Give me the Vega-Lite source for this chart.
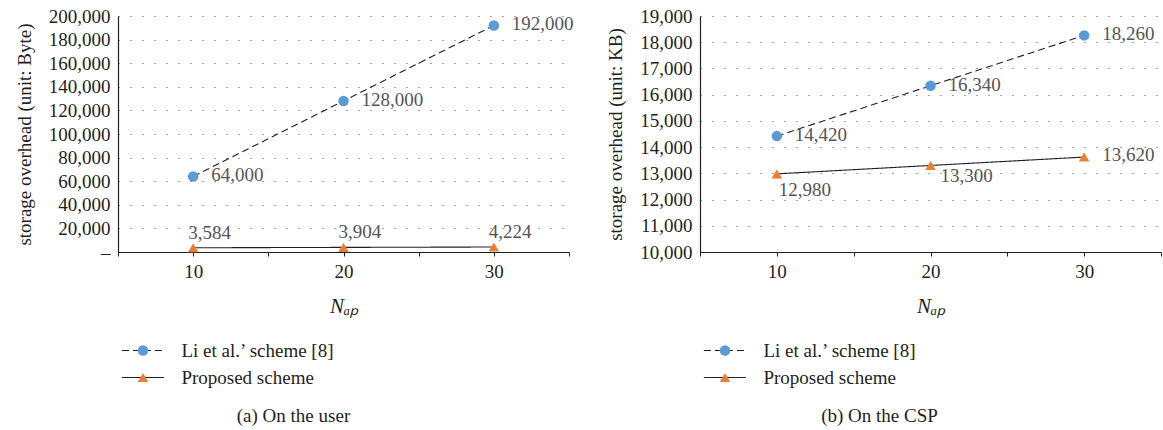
{
  "$schema": "https://vega.github.io/schema/vega-lite/v6.json",
  "padding": {"left": 15, "top": 7, "right": 0, "bottom": 0},
  "background": "white",
  "config": {
    "font": "Liberation Serif, Times New Roman, serif",
    "view": {"stroke": null},
    "axis": {
      "labelFont": "Liberation Serif, Times New Roman, serif", "labelFontSize": 19, "labelColor": "#231f20",
      "titleFont": "Liberation Serif, Times New Roman, serif", "titleFontSize": 19, "titleFontWeight": "normal", "titleColor": "#231f20",
      "domainColor": "#231f20", "domainWidth": 1.2, "tickColor": "#231f20", "tickWidth": 1
    },
    "legend": {"labelFont": "Liberation Serif, Times New Roman, serif", "labelFontSize": 19, "labelColor": "#231f20"},
    "title": {"font": "Liberation Serif, Times New Roman, serif", "fontSize": 19, "fontWeight": "normal", "color": "#231f20"},
    "text": {"font": "Liberation Serif, Times New Roman, serif"}
  },
  "datasets": {
    "user": [
      {"n": 10, "series": "Li et al.’ scheme [8]", "value": 64000},
      {"n": 20, "series": "Li et al.’ scheme [8]", "value": 128000},
      {"n": 30, "series": "Li et al.’ scheme [8]", "value": 192000},
      {"n": 10, "series": "Proposed scheme", "value": 3584},
      {"n": 20, "series": "Proposed scheme", "value": 3904},
      {"n": 30, "series": "Proposed scheme", "value": 4224}
    ],
    "csp": [
      {"n": 10, "series": "Li et al.’ scheme [8]", "value": 14420},
      {"n": 20, "series": "Li et al.’ scheme [8]", "value": 16340},
      {"n": 30, "series": "Li et al.’ scheme [8]", "value": 18260},
      {"n": 10, "series": "Proposed scheme", "value": 12980},
      {"n": 20, "series": "Proposed scheme", "value": 13300},
      {"n": 30, "series": "Proposed scheme", "value": 13620}
    ]
  },
  "resolve": {
    "scale": {"x": "independent", "y": "independent", "color": "independent", "shape": "independent", "strokeDash": "independent"},
    "legend": {"color": "independent", "shape": "independent", "strokeDash": "independent"}
  },
  "spacing": 32,
  "hconcat": [
    {
      "width": 451, "height": 236,
      "title": {"text": "(a)  On the user", "orient": "bottom", "anchor": "middle", "dx": -50, "offset": 19},
      "data": {"name": "user"},
      "encoding": {
        "x": {"field": "n", "type": "quantitative", "scale": {"domain": [5, 35], "nice": false, "zero": false},
          "axis": {"values": [5, 10, 15, 20, 25, 30, 35], "labelExpr": "(datum.value == 10 || datum.value == 20 || datum.value == 30) ? datum.label : ''",
            "grid": false, "tickSize": 4, "labelPadding": 6, "title": "Nₐₚ", "titleFontStyle": "italic", "titleFontSize": 21, "titlePadding": 14}},
        "y": {"field": "value", "type": "quantitative", "scale": {"domain": [0, 200000], "nice": false},
          "axis": {"values": [0, 20000, 40000, 60000, 80000, 100000, 120000, 140000, 160000, 180000, 200000],
            "labelExpr": "datum.value == 0 ? '–' : format(datum.value, ',')", "ticks": false, "labelPadding": 8,
            "grid": true, "gridDash": [1, 11], "gridColor": "#444", "gridWidth": 1,
            "title": "storage overhead (unit: Byte)", "titlePadding": 14}}
      },
      "layer": [
        {
          "mark": {"type": "line", "color": "#231f20", "strokeWidth": 1.1},
          "encoding": {"strokeDash": {"field": "series", "type": "nominal",
            "scale": {"domain": ["Li et al.’ scheme [8]", "Proposed scheme"], "range": [[7, 4], [1, 0]]},
            "legend": {"orient": "none", "legendX": 15.4, "legendY": 325, "title": null, "symbolType": "M-4.2,0H4.2", "symbolSize": 100,
              "symbolStrokeWidth": 1.1, "symbolStrokeColor": "#231f20", "rowPadding": 7, "labelOffset": 29}}}
        },
        {
          "mark": {"type": "point", "filled": true, "size": 110, "opacity": 1},
          "encoding": {
            "color": {"field": "series", "type": "nominal", "scale": {"range": ["#5b9bd5", "#ed7d31"]},
              "legend": {"orient": "none", "legendX": 15.5, "legendY": 325, "title": null, "symbolSize": 110, "symbolStrokeWidth": 0,
                "labelExpr": "''", "rowPadding": 7, "symbolOpacity": 1}},
            "shape": {"field": "series", "type": "nominal", "scale": {"range": ["circle", "triangle-up"]},
              "legend": {"orient": "none", "legendX": 15.5, "legendY": 325, "title": null, "symbolSize": 110, "symbolStrokeWidth": 0,
                "labelExpr": "''", "rowPadding": 7, "symbolOpacity": 1}}
          }
        },
        {
          "transform": [{"filter": "datum.series == 'Li et al.’ scheme [8]'"}],
          "mark": {"type": "text", "align": "left", "baseline": "middle", "dx": 18, "dy": -1, "fontSize": 19, "color": "#555"},
          "encoding": {"text": {"field": "value", "type": "quantitative", "format": ","}}
        },
        {
          "transform": [{"filter": "datum.series == 'Proposed scheme'"}],
          "mark": {"type": "text", "align": "left", "baseline": "middle", "dx": -5, "dy": -15, "fontSize": 19, "color": "#555"},
          "encoding": {"text": {"field": "value", "type": "quantitative", "format": ","}}
        }
      ]
    },
    {
      "width": 461, "height": 236,
      "title": {"text": "(b)  On the CSP", "orient": "bottom", "anchor": "middle", "dx": -51, "offset": 19},
      "data": {"name": "csp"},
      "encoding": {
        "x": {"field": "n", "type": "quantitative", "scale": {"domain": [5, 35], "nice": false, "zero": false},
          "axis": {"values": [5, 10, 15, 20, 25, 30, 35], "labelExpr": "(datum.value == 10 || datum.value == 20 || datum.value == 30) ? datum.label : ''",
            "grid": false, "tickSize": 4, "labelPadding": 6, "title": "Nₐₚ", "titleFontStyle": "italic", "titleFontSize": 21, "titlePadding": 14}},
        "y": {"field": "value", "type": "quantitative", "scale": {"domain": [10000, 19000], "nice": false, "zero": false},
          "axis": {"values": [10000, 11000, 12000, 13000, 14000, 15000, 16000, 17000, 18000, 19000],
            "labelExpr": "format(datum.value, ',')", "ticks": false, "labelPadding": 8,
            "grid": true, "gridDash": [1, 11], "gridColor": "#444", "gridWidth": 1,
            "title": "storage overhead (unit: KB)", "titlePadding": 14}}
      },
      "layer": [
        {
          "mark": {"type": "line", "color": "#231f20", "strokeWidth": 1.1},
          "encoding": {"strokeDash": {"field": "series", "type": "nominal",
            "scale": {"domain": ["Li et al.’ scheme [8]", "Proposed scheme"], "range": [[7, 4], [1, 0]]},
            "legend": {"orient": "none", "legendX": 15.4, "legendY": 325, "title": null, "symbolType": "M-4.2,0H4.2", "symbolSize": 100,
              "symbolStrokeWidth": 1.1, "symbolStrokeColor": "#231f20", "rowPadding": 7, "labelOffset": 29}}}
        },
        {
          "mark": {"type": "point", "filled": true, "size": 110, "opacity": 1},
          "encoding": {
            "color": {"field": "series", "type": "nominal", "scale": {"range": ["#5b9bd5", "#ed7d31"]},
              "legend": {"orient": "none", "legendX": 15.5, "legendY": 325, "title": null, "symbolSize": 110, "symbolStrokeWidth": 0,
                "labelExpr": "''", "rowPadding": 7, "symbolOpacity": 1}},
            "shape": {"field": "series", "type": "nominal", "scale": {"range": ["circle", "triangle-up"]},
              "legend": {"orient": "none", "legendX": 15.5, "legendY": 325, "title": null, "symbolSize": 110, "symbolStrokeWidth": 0,
                "labelExpr": "''", "rowPadding": 7, "symbolOpacity": 1}}
          }
        },
        {
          "transform": [{"filter": "datum.series == 'Li et al.’ scheme [8]'"}],
          "mark": {"type": "text", "align": "left", "baseline": "middle", "dx": 18, "dy": -1, "fontSize": 19, "color": "#555"},
          "encoding": {"text": {"field": "value", "type": "quantitative", "format": ","}}
        },
        {
          "transform": [{"filter": "datum.series == 'Proposed scheme' && datum.n == 10"}],
          "mark": {"type": "text", "align": "left", "baseline": "middle", "dx": 2, "dy": 16, "fontSize": 19, "color": "#555"},
          "encoding": {"text": {"field": "value", "type": "quantitative", "format": ","}}
        },
        {
          "transform": [{"filter": "datum.series == 'Proposed scheme' && datum.n == 20"}],
          "mark": {"type": "text", "align": "left", "baseline": "middle", "dx": 10, "dy": 11, "fontSize": 19, "color": "#555"},
          "encoding": {"text": {"field": "value", "type": "quantitative", "format": ","}}
        },
        {
          "transform": [{"filter": "datum.series == 'Proposed scheme' && datum.n == 30"}],
          "mark": {"type": "text", "align": "left", "baseline": "middle", "dx": 18, "dy": -2, "fontSize": 19, "color": "#555"},
          "encoding": {"text": {"field": "value", "type": "quantitative", "format": ","}}
        }
      ]
    }
  ]
}
